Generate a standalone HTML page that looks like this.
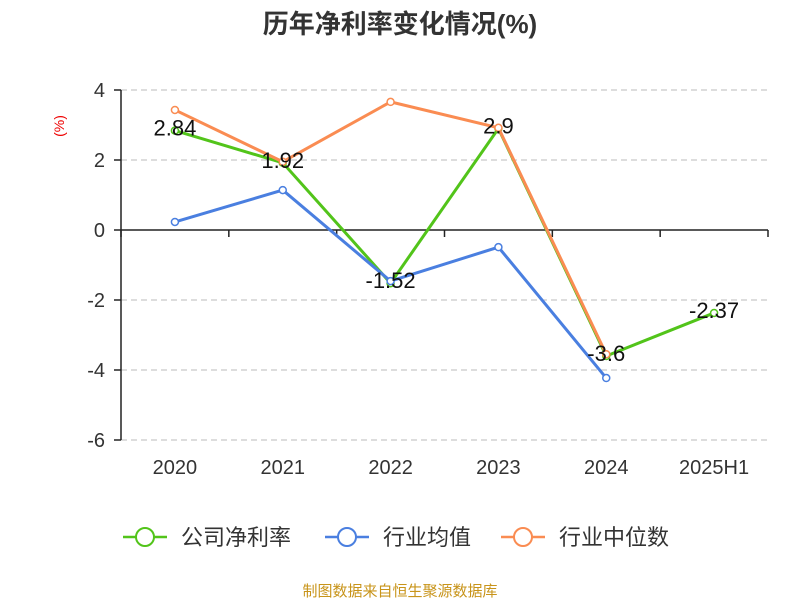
<!DOCTYPE html>
<html><head><meta charset="utf-8"><style>
body{margin:0;background:#fff;font-family:"Liberation Sans","Noto Sans CJK SC",sans-serif}
</style></head><body>
<svg width="800" height="600" xmlns="http://www.w3.org/2000/svg" font-family="Liberation Sans, Noto Sans CJK SC, sans-serif">
<text x="400" y="33" text-anchor="middle" font-size="26" font-weight="bold" fill="#333">历年净利率变化情况(%)</text>
<text x="64" y="126" transform="rotate(-90 64 126)" text-anchor="middle" font-size="14" fill="#e00">(%)</text>
<g id="grid"></g><g id="series"></g>
<g font-size="22" fill="#333">
<g><line x1="123" y1="537" x2="167" y2="537" stroke="#52c41a" stroke-width="2.5"/><circle cx="145" cy="537" r="9" fill="#fff" stroke="#52c41a" stroke-width="2"/><text x="181" y="545">公司净利率</text></g>
<g><line x1="325" y1="537" x2="369" y2="537" stroke="#4a7fe0" stroke-width="2.5"/><circle cx="347" cy="537" r="9" fill="#fff" stroke="#4a7fe0" stroke-width="2"/><text x="383" y="545">行业均值</text></g>
<g><line x1="501" y1="537" x2="545" y2="537" stroke="#fa8c52" stroke-width="2.5"/><circle cx="523" cy="537" r="9" fill="#fff" stroke="#fa8c52" stroke-width="2"/><text x="559" y="545">行业中位数</text></g>
</g>
<text x="400" y="596" text-anchor="middle" font-size="15" fill="#c8941a">制图数据来自恒生聚源数据库</text>
</svg>
<script>
const categories=["2020","2021","2022","2023","2024","2025H1"];
const companyVals=[2.84,1.92,-1.52,2.9,-3.6,-2.37];
const avgVals=[0.23,1.14,-1.46,-0.49,-4.23,null];
const medianVals=[3.43,1.95,3.66,2.92,-3.55,null];
const yTicks=[4,2,0,-2,-4,-6];
const NS="http://www.w3.org/2000/svg";
const L=121,R=768,yMax=4,yMin=-6,T=90,B=440;
const bw=(R-L)/categories.length;
const xs=i=>L+bw*(i+0.5);
const ys=v=>T+(yMax-v)/(yMax-yMin)*(B-T);
function mk(p,t,a){const e=document.createElementNS(NS,t);for(const k in a)e.setAttribute(k,a[k]);p.appendChild(e);return e;}
const g=document.getElementById('grid'),s=document.getElementById('series');
yTicks.forEach(v=>{const y=ys(v);
 if(v!==0){const l=mk(g,'line',{x1:L,x2:R,y1:y,y2:y,stroke:'#bbb','stroke-dasharray':'6,4'});}
 const t=mk(g,'line',{x1:L-7,x2:L,y1:y,y2:y,stroke:'#222','stroke-width':1.5});
 const tx=mk(g,'text',{x:105,y:y+7,'text-anchor':'end','font-size':20,fill:'#333'});tx.textContent=v;});
const ya=mk(g,'line',{x1:L,x2:L,y1:T,y2:B,stroke:'#222','stroke-width':1.5});
const xa=mk(g,'line',{x1:L,x2:R,y1:ys(0),y2:ys(0),stroke:'#222','stroke-width':1.5});
for(let i=0;i<=categories.length;i++){const x=L+bw*i;const t=mk(g,'line',{x1:x,x2:x,y1:ys(0),y2:ys(0)+7,stroke:'#222','stroke-width':1.5});}
categories.forEach((c,i)=>{const t=mk(g,'text',{x:xs(i),y:474,'text-anchor':'middle','font-size':20,fill:'#333'});t.textContent=c;});
function series(vals,color,name){
 const pts=vals.map((v,i)=>v==null?null:[xs(i),ys(v)]).filter(p=>p);
 const pl=mk(s,'polyline',{points:pts.map(p=>p.join(',')).join(' '),fill:'none',stroke:color,'stroke-width':3});
 
 vals.forEach((v,i)=>{if(v==null)return;const c=mk(s,'circle',{cx:xs(i),cy:ys(v),r:3.5,fill:'#fff',stroke:color,'stroke-width':1.5});
  });
}
series(companyVals,'#52c41a','company');
series(avgVals,'#4a7fe0','industry-avg');
series(medianVals,'#fa8c52','industry-median');
companyVals.forEach((v,i)=>{const t=mk(s,'text',{x:xs(i),y:ys(v)+5,'text-anchor':'middle','font-size':22,fill:'#111'});t.textContent=v;
 });
</script>
</body></html>
